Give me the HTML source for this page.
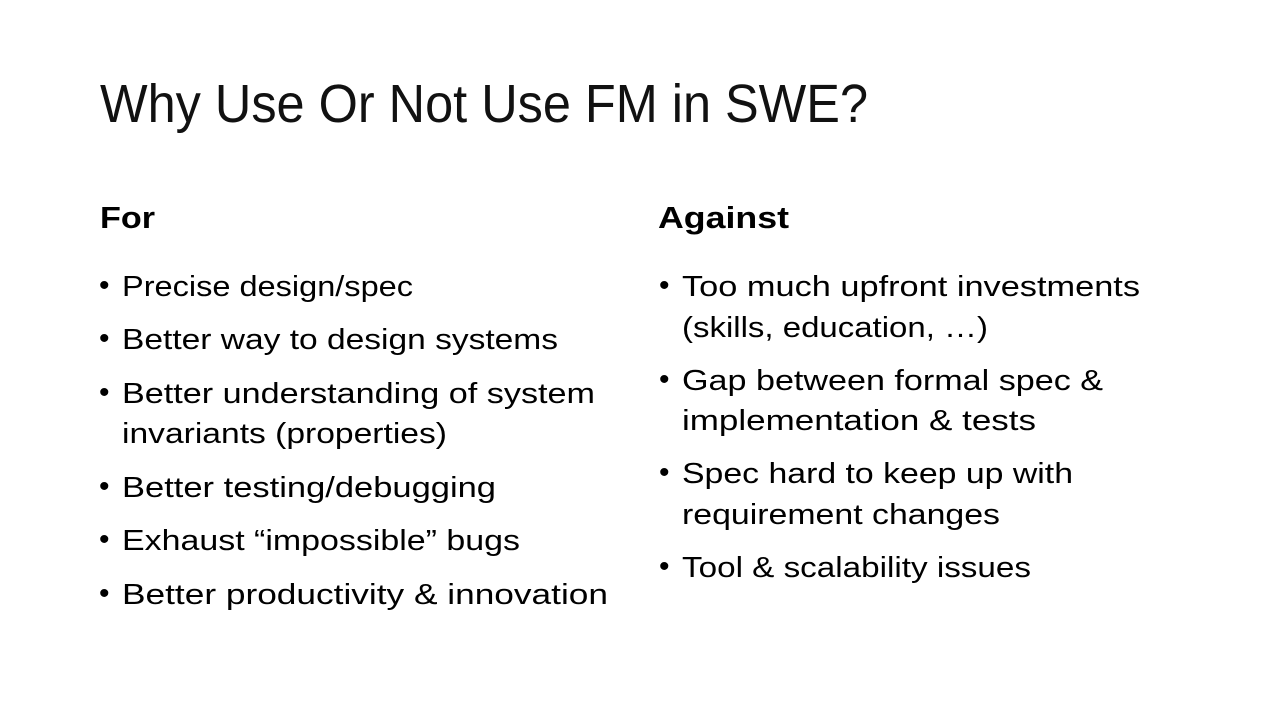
<!DOCTYPE html>
<html><head><meta charset="utf-8">
<style>
html,body{margin:0;padding:0;background:#fff;}
body{width:1280px;height:720px;position:relative;overflow:hidden;font-family:"Liberation Sans",sans-serif;color:#000;}
.t{position:absolute;white-space:nowrap;transform-origin:0 50%;}
.title{font-size:54px;line-height:64px;top:72px;left:100px;font-weight:300;color:#111;}
.h{font-size:31px;line-height:40px;font-weight:bold;top:198px;}
.l{font-size:29px;line-height:40px;}
.b{position:absolute;font-size:30px;line-height:40px;}
</style></head><body>
<div class="t title" data-w="768">Why <span style="font-weight:normal">Use</span> Or <span style="font-weight:normal">Not Use</span> FM in SWE?</div>

<div class="t h" style="left:100px" data-w="55">For</div>
<div class="t h" style="left:658px" data-w="131">Against</div>

<div class="b" style="left:99px;top:266px">•</div>
<div class="t l" style="left:122px;top:267px" data-w="291">Precise design/spec</div>
<div class="b" style="left:99px;top:319px">•</div>
<div class="t l" style="left:122px;top:320px" data-w="436">Better way to design systems</div>
<div class="b" style="left:99px;top:373px">•</div>
<div class="t l" style="left:122px;top:374px" data-w="473">Better understanding of system</div>
<div class="t l" style="left:122px;top:414px" data-w="325">invariants (properties)</div>
<div class="b" style="left:99px;top:467px">•</div>
<div class="t l" style="left:122px;top:468px" data-w="374">Better testing/debugging</div>
<div class="b" style="left:99px;top:520px">•</div>
<div class="t l" style="left:122px;top:521px" data-w="398">Exhaust “impossible” bugs</div>
<div class="b" style="left:99px;top:574px">•</div>
<div class="t l" style="left:122px;top:575px" data-w="486">Better productivity &amp; innovation</div>

<div class="b" style="left:659px;top:266px">•</div>
<div class="t l" style="left:682px;top:267px" data-w="458">Too much upfront investments</div>
<div class="t l" style="left:682px;top:308px" data-w="306">(skills, education, …)</div>
<div class="b" style="left:659px;top:360px">•</div>
<div class="t l" style="left:682px;top:361px" data-w="421">Gap between formal spec &amp;</div>
<div class="t l" style="left:682px;top:401px" data-w="354">implementation &amp; tests</div>
<div class="b" style="left:659px;top:453px">•</div>
<div class="t l" style="left:682px;top:454px" data-w="391">Spec hard to keep up with</div>
<div class="t l" style="left:682px;top:495px" data-w="318">requirement changes</div>
<div class="b" style="left:659px;top:547px">•</div>
<div class="t l" style="left:682px;top:548px" data-w="349">Tool &amp; scalability issues</div>

<script>
document.querySelectorAll('[data-w]').forEach(function(el){
  var target=parseFloat(el.getAttribute('data-w'));
  var w=el.getBoundingClientRect().width;
  if(w>0) el.style.transform='scaleX('+(target/w)+')';
});
</script>
</body></html>
